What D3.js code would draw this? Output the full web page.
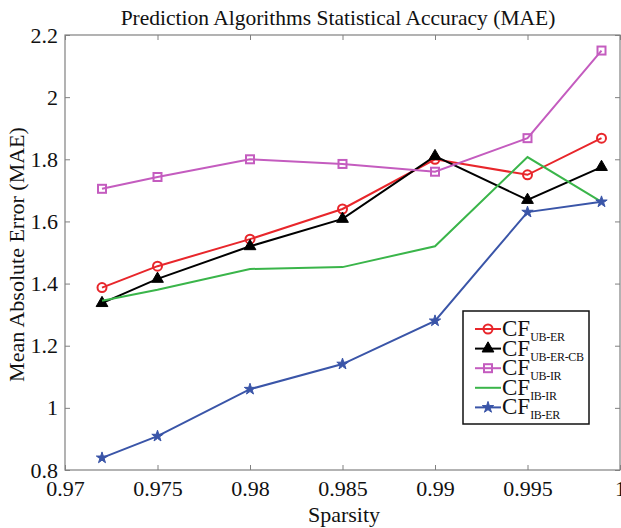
<!DOCTYPE html>
<html>
<head>
<meta charset="utf-8">
<script src="https://cdn.jsdelivr.net/npm/d3@7"></script>
<style>
  body { margin: 0; background: #fff; }
  svg text { font-family: "Liberation Serif", "Times New Roman", serif; }
</style>
</head>
<body>
<svg id="chart" width="621" height="528"></svg>
<script>
// sparsity levels and MAE per algorithm
var sparsity = [0.972, 0.975, 0.98, 0.985, 0.99, 0.995, 0.999];
var ubEr   = [1.387, 1.456, 1.543, 1.640, 1.800, 1.750, 1.868];
var ubErCb = [1.337, 1.415, 1.520, 1.608, 1.810, 1.669, 1.775];
var ubIr   = [1.705, 1.743, 1.800, 1.785, 1.760, 1.868, 2.150];
var ibIr   = [1.345, 1.380, 1.447, 1.453, 1.520, 1.807, 1.663];
var ibEr   = [0.839, 0.909, 1.060, 1.141, 1.280, 1.630, 1.663];
var xTicks = [0.97, 0.975, 0.98, 0.985, 0.99, 0.995, 1];
var yTicks = [0.8, 1, 1.2, 1.4, 1.6, 1.8, 2, 2.2];

var series = [
  {sub: 'UB-ER',    values: ubEr,   color: '#e8262b', marker: 'circle'},
  {sub: 'UB-ER-CB', values: ubErCb, color: '#000000', marker: 'triangle'},
  {sub: 'UB-IR',    values: ubIr,   color: '#c45cbf', marker: 'square'},
  {sub: 'IB-IR',    values: ibIr,   color: '#3ab54a', marker: 'none'},
  {sub: 'IB-ER',    values: ibEr,   color: '#3a55a8', marker: 'star'}
];

var plotL = 65, plotR = 620, plotT = 35, plotB = 470;
var svg = d3.select('#chart');

var x = d3.scaleLinear().domain([0.97, 1]).range([plotL, plotR]);
var y = d3.scaleLinear().domain([0.8, 2.2]).range([plotB, plotT]);

var axisColor = '#808080';

// frame
svg.append('rect')
  .attr('x', plotL).attr('y', plotT)
  .attr('width', plotR - plotL).attr('height', plotB - plotT)
  .attr('fill', 'none').attr('stroke', axisColor).attr('stroke-width', 1.2);

var fmtX = function(d) { return d === 1 ? '1' : d3.format('')(d); };

var xAxis = svg.append('g')
  .attr('transform', 'translate(0,' + plotB + ')')
  .call(d3.axisBottom(x).tickValues(xTicks).tickFormat(fmtX).tickSizeInner(-5).tickSizeOuter(0).tickPadding(10));
var yAxis = svg.append('g')
  .attr('transform', 'translate(' + plotL + ',0)')
  .call(d3.axisLeft(y).tickValues(yTicks).tickFormat(d3.format('')).tickSizeInner(-5).tickSizeOuter(0).tickPadding(7));
var xTop = svg.append('g')
  .attr('transform', 'translate(0,' + plotT + ')')
  .call(d3.axisTop(x).tickValues(xTicks).tickFormat('').tickSizeInner(-5).tickSizeOuter(0));
var yRight = svg.append('g')
  .attr('transform', 'translate(' + plotR + ',0)')
  .call(d3.axisRight(y).tickValues(yTicks).tickFormat('').tickSizeInner(-5).tickSizeOuter(0));

[xAxis, yAxis, xTop, yRight].forEach(function(g) {
  g.select('.domain').remove();
  g.selectAll('line').attr('stroke', axisColor);
  g.selectAll('text')
    .attr('fill', '#111')
    .style('font-family', '"Liberation Serif", serif')
    .style('font-size', '22px');
});

var line = d3.line()
  .x(function(d, i) { return x(sparsity[i]); })
  .y(function(d) { return y(d); });

var starPath = d3.symbol().type(d3.symbolStar).size(40)();
var triPath = d3.symbol().type(d3.symbolTriangle).size(60)();

function drawMarker(g, m, color) {
  if (m === 'circle') {
    g.append('circle').attr('r', 4.5).attr('fill', 'none')
      .attr('stroke', color).attr('stroke-width', 2);
  } else if (m === 'triangle') {
    g.append('path').attr('d', triPath).attr('fill', color)
      .attr('stroke', color).attr('stroke-width', 1);
  } else if (m === 'square') {
    g.append('rect').attr('x', -4).attr('y', -4).attr('width', 8).attr('height', 8)
      .attr('fill', 'none').attr('stroke', color).attr('stroke-width', 2);
  } else if (m === 'star') {
    g.append('path').attr('d', starPath).attr('fill', color)
      .attr('stroke', color).attr('stroke-width', 1);
  }
}

series.forEach(function(s) {
  svg.append('path')
    .datum(s.values)
    .attr('d', line)
    .attr('fill', 'none')
    .attr('stroke', s.color)
    .attr('stroke-width', 2);
  s.values.forEach(function(v, i) {
    var g = svg.append('g')
      .attr('transform', 'translate(' + x(sparsity[i]) + ',' + y(v) + ')');
    drawMarker(g, s.marker, s.color);
  });
});

// title and axis labels
svg.append('text')
  .attr('x', 338).attr('y', 25)
  .attr('text-anchor', 'middle')
  .style('font-size', '21.5px')
  .attr('fill', '#111')
  .text('Prediction Algorithms Statistical Accuracy (MAE)');

svg.append('text')
  .attr('x', 344).attr('y', 522)
  .attr('text-anchor', 'middle')
  .style('font-size', '22px')
  .attr('fill', '#111')
  .text('Sparsity');

svg.append('text')
  .attr('transform', 'translate(24,' + ((plotT + plotB) / 2 + 2) + ') rotate(-90)')
  .attr('text-anchor', 'middle')
  .style('font-size', '22px')
  .attr('fill', '#111')
  .text('Mean Absolute Error (MAE)');

// legend
var legend = svg.append('g');
legend.append('rect')
  .attr('x', 463).attr('y', 311)
  .attr('width', 126).attr('height', 113)
  .attr('fill', '#fff').attr('stroke', '#111').attr('stroke-width', 1.5);

series.forEach(function(s, i) {
  var ly = 329 + i * 19.6;
  var row = legend.append('g');
  row.append('line')
    .attr('x1', 475).attr('x2', 501).attr('y1', ly).attr('y2', ly)
    .attr('stroke', s.color).attr('stroke-width', 2);
  var mg = row.append('g').attr('transform', 'translate(488,' + ly + ')');
  drawMarker(mg, s.marker, s.color);
  var t = row.append('text')
    .attr('x', 502).attr('y', ly + 7)
    .style('font-size', '23px')
    .attr('fill', '#111');
  t.append('tspan').text('CF');
  t.append('tspan')
    .attr('dy', 5)
    .style('font-size', '12px')
    .style('letter-spacing', '-0.3px')
    .text(s.sub);
});
</script>
</body>
</html>
